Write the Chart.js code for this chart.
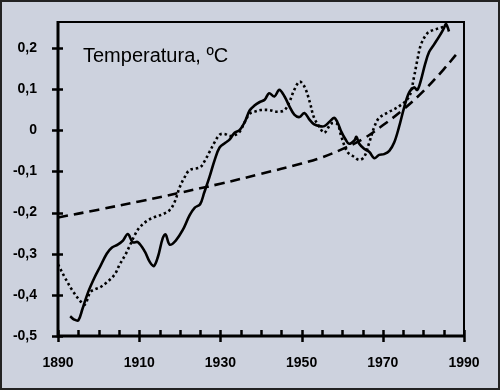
<!DOCTYPE html>
<html><head><meta charset="utf-8">
<script src="https://cdn.jsdelivr.net/npm/chart.js@4/dist/chart.umd.min.js"></script>
<style>html,body{margin:0;padding:0;background:#cdd2de}#wrap{width:500px;height:390px}</style>
</head><body><div id="wrap"><canvas id="c" width="500" height="390"></canvas></div>
<script>
const titleText = 'Temperatura, ºC';
const yTicks = [-0.5, -0.4, -0.3, -0.2, -0.1, 0, 0.1, 0.2];
const xMajorTicks = [1890, 1910, 1930, 1950, 1970, 1990];
const xMinorTicks = [1895, 1900, 1905, 1915, 1920, 1925, 1935, 1940, 1945, 1955, 1960, 1965, 1975, 1980, 1985];

const solidYears = [1893,1894,1895,1896,1897.4,1899,1900.3,1902,1903.3,1904.7,1906,1907.2,1908.4,1909.7,1911.4,1912.6,1913.6,1914.6,1915.8,1916.5,1917.5,1919,1920.7,1922.4,1923.7,1925,1926,1927.3,1928.6,1929.8,1931.3,1932.3,1933.5,1934.7,1936,1937.2,1938.4,1939.6,1940.9,1942,1943.3,1944.5,1945.8,1947,1948.2,1949.5,1950.7,1952,1953,1954.4,1955.6,1956.8,1958,1958.8,1959.8,1960.8,1961.7,1963,1963.5,1964.2,1965.4,1966.7,1967.9,1969.1,1970.3,1971.6,1972.8,1974,1975.3,1976.5,1977.7,1978.5,1979.4,1980.4,1981.4,1982.6,1983.9,1985,1985.6,1986.3];
const solidValues = [-0.452,-0.460,-0.462,-0.435,-0.394,-0.358,-0.333,-0.300,-0.285,-0.278,-0.268,-0.252,-0.272,-0.272,-0.295,-0.320,-0.330,-0.308,-0.262,-0.253,-0.278,-0.268,-0.243,-0.207,-0.188,-0.180,-0.152,-0.114,-0.072,-0.042,-0.030,-0.022,-0.006,0.000,0.020,0.048,0.060,0.068,0.074,0.090,0.082,0.098,0.082,0.058,0.038,0.032,0.042,0.025,0.015,0.010,0.010,0.020,0.030,0.020,-0.004,-0.022,-0.033,-0.025,-0.016,-0.033,-0.045,-0.053,-0.068,-0.060,-0.058,-0.050,-0.030,0.008,0.057,0.092,0.104,0.098,0.122,0.160,0.190,0.208,0.228,0.247,0.258,0.240];

const dottedYears = [1890,1891.7,1893.4,1895.4,1896.6,1897.9,1899,1900.3,1902,1904,1905.2,1906.5,1907.7,1909,1910.1,1912.1,1913.8,1915.8,1917.5,1918.7,1920,1921.2,1922.4,1925,1926,1927.3,1928.6,1929.8,1931,1932.3,1933.7,1934.7,1936,1937.2,1938.4,1940,1942,1944,1945.8,1947,1948.2,1949.5,1950.7,1952,1953,1954.4,1955.6,1957.3,1958.8,1959.8,1961.3,1963,1964.2,1965.4,1966.7,1967.9,1969.1,1971.6,1974,1976.5,1977.7,1978.5,1979.4,1981,1982.6,1984.6,1985.8];
const dottedValues = [-0.326,-0.358,-0.387,-0.414,-0.424,-0.394,-0.387,-0.382,-0.370,-0.350,-0.326,-0.304,-0.280,-0.253,-0.236,-0.219,-0.211,-0.204,-0.194,-0.175,-0.138,-0.114,-0.097,-0.090,-0.077,-0.053,-0.029,-0.011,-0.009,-0.014,-0.011,-0.004,0.020,0.040,0.045,0.049,0.049,0.045,0.049,0.069,0.098,0.118,0.106,0.069,0.032,0.008,-0.006,0.016,0.015,-0.016,-0.053,-0.065,-0.072,-0.065,-0.029,0.008,0.030,0.045,0.058,0.082,0.130,0.170,0.208,0.236,0.244,0.250,0.254];

const dashedYears = [1890,1900,1910,1920,1930,1940,1950,1955,1960,1965,1970,1975,1980,1985,1988];
const dashedValues = [-0.212,-0.193,-0.173,-0.152,-0.130,-0.106,-0.081,-0.066,-0.046,-0.022,0.012,0.050,0.095,0.148,0.183];

const toPts = (xs, ys) => xs.map((x, i) => ({x: x, y: ys[i]}));
const BG = '#cdd2de';
const FONT = '"Liberation Sans", Arial, sans-serif';

const decor = {
  id: 'decor',
  beforeDraw(chart) {
    const ctx = chart.ctx;
    ctx.save();
    ctx.fillStyle = BG;
    ctx.fillRect(0, 0, chart.width, chart.height);
    ctx.strokeStyle = '#222';
    ctx.lineWidth = 2;
    ctx.strokeRect(1, 1, chart.width - 2, chart.height - 2);
    ctx.restore();
  },
  afterDraw(chart) {
    const ctx = chart.ctx, a = chart.chartArea;
    const xs = chart.scales.x, ys = chart.scales.y;
    ctx.save();
    ctx.setLineDash([]);
    ctx.strokeStyle = '#000';
    ctx.lineWidth = 2;
    ctx.beginPath();
    ctx.moveTo(a.left, a.top); ctx.lineTo(a.right, a.top); ctx.lineTo(a.right, a.bottom);
    ctx.stroke();
    ctx.lineWidth = 3;
    ctx.beginPath();
    ctx.moveTo(a.left, a.top - 1); ctx.lineTo(a.left, a.bottom); ctx.lineTo(a.right + 1, a.bottom);
    ctx.stroke();
    ctx.lineWidth = 2.5;
    ctx.beginPath();
    yTicks.forEach(v => {
      const py = Math.round(ys.getPixelForValue(v)) + 0.5;
      ctx.moveTo(a.left - 6, py); ctx.lineTo(a.left + 5, py);
    });
    xMajorTicks.forEach(v => {
      const px = Math.round(xs.getPixelForValue(v)) + 0.5;
      ctx.moveTo(px, a.bottom - 6); ctx.lineTo(px, a.bottom + 6);
    });
    xMinorTicks.forEach(v => {
      const px = Math.round(xs.getPixelForValue(v)) + 0.5;
      ctx.moveTo(px, a.bottom - 6); ctx.lineTo(px, a.bottom);
    });
    ctx.stroke();
    ctx.fillStyle = '#000';
    ctx.font = '20px ' + FONT;
    ctx.textBaseline = 'alphabetic';
    ctx.textAlign = 'left';
    ctx.fillText(titleText, a.left + 25, a.top + 40);
    ctx.restore();
  }
};

new Chart(document.getElementById('c'), {
  type: 'line',
  data: {
    datasets: [
      { data: toPts(solidYears, solidValues), borderColor: '#000', borderWidth: 2.6, pointRadius: 0, tension: 0.35, fill: false },
      { data: toPts(dottedYears, dottedValues), borderColor: '#000', borderWidth: 2.6, borderDash: [2.5, 2.8], pointRadius: 0, tension: 0.35, fill: false },
      { data: toPts(dashedYears, dashedValues), borderColor: '#000', borderWidth: 2.6, borderDash: [10, 6], pointRadius: 0, tension: 0.4, fill: false }
    ]
  },
  options: {
    responsive: false,
    animation: false,
    devicePixelRatio: 1,
    layout: { padding: { top: 22, right: 36, left: 0, bottom: 0 } },
    plugins: { legend: { display: false }, tooltip: { enabled: false }, title: { display: false } },
    scales: {
      x: {
        type: 'linear', min: 1890, max: 1990,
        grid: { display: false }, border: { display: false },
        afterBuildTicks: s => { s.ticks = xMajorTicks.map(v => ({ value: v })); },
        afterFit: s => { s.height = 54; },
        ticks: { color: '#000', padding: 11, maxRotation: 0, autoSkip: false,
          font: { family: FONT, size: 14, weight: 'bold' }, callback: v => String(v) }
      },
      y: {
        type: 'linear', min: -0.5, max: 0.263,
        grid: { display: false }, border: { display: false },
        afterBuildTicks: s => { s.ticks = yTicks.map(v => ({ value: v })); },
        afterFit: s => { s.width = 58; },
        ticks: { color: '#000', padding: 13, autoSkip: false,
          font: { family: FONT, size: 14, weight: 'bold' },
          callback: v => (Math.abs(v) < 1e-9 ? '0' : v.toFixed(1).replace('.', ',')) }
      }
    }
  },
  plugins: [decor]
});
</script>
</body></html>
